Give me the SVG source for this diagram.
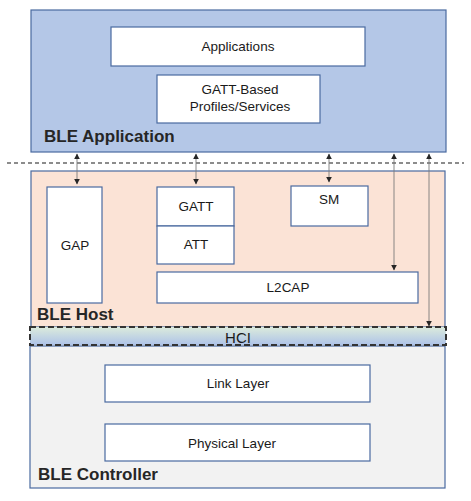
<svg xmlns="http://www.w3.org/2000/svg" width="471" height="501" viewBox="0 0 471 501">
<style>
.box{fill:#ffffff;stroke:#4a6aa0;stroke-width:1.2}
.lbl{font-family:"Liberation Sans",Arial,sans-serif;font-size:13.5px;fill:#1a1a1a;text-anchor:middle}
.title{font-family:"Liberation Sans",Arial,sans-serif;font-size:17px;font-weight:bold;fill:#262626}
.conn{stroke:#7a7a7a;stroke-width:0.9;fill:none}
</style>
<defs>
<linearGradient id="hciGrad" x1="0" y1="0" x2="0" y2="1">
<stop offset="0" stop-color="#dcebdc"/>
<stop offset="1" stop-color="#aec3e8"/>
</linearGradient>
<marker id="ah" viewBox="0 0 10 10" refX="9" refY="5" markerWidth="6" markerHeight="6" orient="auto-start-reverse" markerUnits="userSpaceOnUse">
<path d="M0,0 L10,5 L0,10 z" fill="#262626"/>
</marker>
</defs>
<rect x="0" y="0" width="471" height="501" fill="#ffffff"/>
<g id="app-layer">
<rect x="31" y="10" width="415" height="142" fill="#b4c7e7" stroke="#4a6aa0" stroke-width="1.2"/>
<text class="title" x="44" y="142">BLE Application</text>
</g>
<g id="applications">
<rect class="box" x="111" y="27" width="254" height="39"/>
<text class="lbl" x="238" y="51">Applications</text>
</g>
<g id="gatt-profiles">
<rect class="box" x="157" y="75" width="163" height="48"/>
<text class="lbl" x="240" y="94">GATT-Based</text>
<text class="lbl" x="240" y="111">Profiles/Services</text>
</g>
<g id="host-layer">
<rect x="31" y="171" width="414" height="156" fill="#fbe3d6" stroke="#4a6aa0" stroke-width="1.2"/>
<text class="title" x="37" y="320">BLE Host</text>
</g>
<g id="gap">
<rect class="box" x="47" y="187" width="55" height="116"/>
<text class="lbl" x="75" y="250">GAP</text>
</g>
<g id="gatt">
<rect class="box" x="157" y="187" width="77" height="39"/>
<text class="lbl" x="196" y="211">GATT</text>
</g>
<g id="att">
<rect class="box" x="157" y="226" width="77" height="38"/>
<text class="lbl" x="196" y="249">ATT</text>
</g>
<g id="sm">
<rect class="box" x="291" y="186" width="77" height="40"/>
<text class="lbl" x="329" y="204">SM</text>
</g>
<g id="l2cap">
<rect class="box" x="157" y="272" width="261" height="31"/>
<text class="lbl" x="288" y="292">L2CAP</text>
</g>
<g id="controller-layer">
<rect x="30" y="346" width="415" height="142" fill="#f2f2f2" stroke="#4a6aa0" stroke-width="1.2"/>
<text class="title" x="38" y="480">BLE Controller</text>
</g>
<g id="link-layer">
<rect class="box" x="105" y="365" width="265" height="37"/>
<text class="lbl" x="238" y="388">Link Layer</text>
</g>
<g id="physical-layer">
<rect class="box" x="105" y="424" width="265" height="37"/>
<text class="lbl" x="232" y="448">Physical Layer</text>
</g>
<g id="hci">
<rect x="30" y="327" width="416" height="18" fill="url(#hciGrad)" stroke="#333333" stroke-width="2" stroke-dasharray="6,3"/>
<text class="lbl" x="238" y="343" style="font-size:15px">HCI</text>
</g>
<g id="connectors">
<line x1="7" y1="163" x2="464" y2="163" stroke="#1a1a1a" stroke-width="1.2" stroke-dasharray="4,3"/>
<line class="conn" x1="77" y1="154" x2="77" y2="184" marker-start="url(#ah)" marker-end="url(#ah)"/>
<line class="conn" x1="196" y1="154" x2="196" y2="184" marker-start="url(#ah)" marker-end="url(#ah)"/>
<line class="conn" x1="329" y1="154" x2="329" y2="182" marker-start="url(#ah)" marker-end="url(#ah)"/>
<line class="conn" x1="394" y1="154" x2="394" y2="270" marker-start="url(#ah)" marker-end="url(#ah)"/>
<line class="conn" x1="429" y1="154" x2="429" y2="326" marker-start="url(#ah)" marker-end="url(#ah)"/>
</g>
</svg>
